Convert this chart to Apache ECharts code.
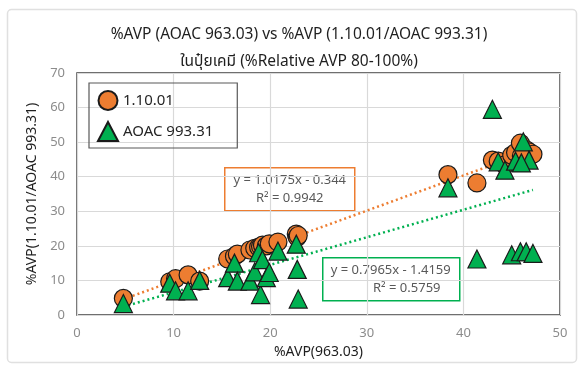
<!DOCTYPE html>
<html><head><meta charset="utf-8">
<script src="https://cdn.jsdelivr.net/npm/echarts@6/dist/echarts.min.js"></script>
<style>html,body{margin:0;padding:0;background:#fff}#c{width:580px;height:372px}</style>
</head><body><div id="c"></div>
<script>
const xValues = [4.8, 9.6, 10.2, 11.5, 12.7, 15.6, 16.3, 16.6, 17.9, 18.4, 18.8, 19.0, 19.2, 19.6, 19.9, 20.8, 22.7, 22.8, 22.9, 38.4, 41.4, 43.0, 43.6, 44.3, 45.0, 45.4, 45.9, 46.2, 46.5, 46.8, 47.2, 46.0];
const y11001 = [4.8, 9.6, 10.5, 11.6, 9.8, 16.2, 17.0, 17.6, 18.8, 19.3, 19.6, 19.8, 20.2, 20.0, 20.6, 21.1, 23.4, 22.5, 23.0, 40.6, 38.2, 44.8, 44.5, 43.4, 46.2, 47.0, 49.7, 45.8, 47.8, 47.2, 46.5, 46.0];
const yAOAC = [3.3, 9.2, 7.0, 7.0, 10.0, 10.8, 15.0, 9.8, 9.8, 12.5, 18.0, 5.9, 16.0, 10.8, 12.3, 18.5, 20.5, 13.2, 4.6, 36.8, 16.2, 59.5, 44.3, 41.9, 17.4, 44.5, 18.3, 50.1, 18.3, 44.8, 17.8, 44.0];
const seriesNames = ['1.10.01', 'AOAC 993.31'];
const xTicks = [0, 10, 20, 30, 40, 50];
const yTicks = [0, 10, 20, 30, 40, 50, 60, 70];
const fit11001 = {slope: 1.0175, intercept: -0.344, r2: '0.9942', text: 'y = 1.0175x - 0.344'};
const fitAOAC = {slope: 0.7965, intercept: -1.4159, r2: '0.5759', text: 'y = 0.7965x - 1.4159'};
const titleLines = ['%AVP (AOAC 963.03) vs %AVP (1.10.01/AOAC 993.31)', 'ในปุ๋ยเคมี (%Relative AVP 80-100%)'];
const xName = '%AVP(963.03)';
const yName = '%AVP(1.10.01/AOAC 993.31)';

const FONT = '"Noto Sans", "Noto Sans Thai", Tahoma, sans-serif';
const xMin = Math.min(...xValues), xMax = Math.max(...xValues);
function trend(f){ return [[xMin, f.slope*xMin+f.intercept],[xMax, f.slope*xMax+f.intercept]]; }
const pts1 = xValues.map((x,i)=>[x, y11001[i]]);
const pts2 = xValues.map((x,i)=>[x, yAOAC[i]]);

const chart = echarts.init(document.getElementById('c'), null, {renderer:'canvas'});
chart.setOption({
  animation: false,
  backgroundColor: '#fff',
  title: {
    text: titleLines.join('\n'), left: 294, top: 16, textAlign: 'center',
    textStyle: {fontFamily: FONT, fontSize: 15.5, fontWeight: 'normal', color: '#1f1f1f', lineHeight: 27}
  },
  legend: {
    orient: 'vertical', left: 89, top: 83, data: seriesNames,
    borderColor: '#595959', borderWidth: 1.2, padding: [7, 24, 6, 8], itemGap: 10,
    itemWidth: 20, itemHeight: 19,
    textStyle: {fontFamily: FONT, fontSize: 15, color: '#262626'}
  },
  grid: {left: 77, right: 20, top: 73, bottom: 57, show: true, borderColor: '#404040', borderWidth: 1.5},
  xAxis: {
    type: 'value', min: xTicks[0], max: xTicks[xTicks.length-1], interval: 10,
    name: xName, nameLocation: 'middle', nameGap: 22,
    nameTextStyle: {fontFamily: FONT, fontSize: 14, color: '#1f1f1f'},
    axisLine: {show: false}, axisTick: {show: false},
    axisLabel: {fontFamily: FONT, fontSize: 13, color: '#8c8c8c', margin: 12},
    splitLine: {lineStyle: {color: '#d9d9d9', width: 1.2}}
  },
  yAxis: {
    type: 'value', min: yTicks[0], max: yTicks[yTicks.length-1], interval: 10,
    name: yName, nameLocation: 'middle', nameGap: 38, nameRotate: 90,
    nameTextStyle: {fontFamily: FONT, fontSize: 14, color: '#1f1f1f'},
    axisLine: {show: false}, axisTick: {show: false},
    axisLabel: {fontFamily: FONT, fontSize: 13, color: '#8c8c8c', margin: 12},
    splitLine: {lineStyle: {color: '#d9d9d9', width: 1.2}}
  },
  series: [
    {type: 'line', data: trend(fit11001), symbol: 'none', silent: true, z: 1,
     lineStyle: {color: '#ED7D31', width: 2.5, type: [2, 3]}},
    {type: 'line', data: trend(fitAOAC), symbol: 'none', silent: true, z: 1,
     lineStyle: {color: '#00B050', width: 2.5, type: [2, 3]}},
    {name: seriesNames[0], type: 'scatter', data: pts1, symbol: 'circle', symbolSize: 18, z: 3,
     itemStyle: {color: '#ED7D31', borderColor: '#1a1a1a', borderWidth: 1.2, opacity: 1}},
    {name: seriesNames[1], type: 'scatter', data: pts2, symbol: 'triangle', symbolSize: 18, z: 4,
     itemStyle: {color: '#00B050', borderColor: '#1a1a1a', borderWidth: 1.2, opacity: 1}}
  ],
  graphic: [
    {type: 'rect', left: 5, top: 7, shape: {width: 569, height: 353, r: 4}, z: -10, silent: true,
     style: {fill: 'none', stroke: '#e0e0e0', lineWidth: 1.5}},
    {type: 'group', left: 224, top: 167, z: 10, children: [
      {type: 'rect', shape: {width: 130, height: 43}, style: {fill: '#fff', stroke: '#ED7D31', lineWidth: 1.5}},
      {type: 'text', x: 65, y: 13, style: {text: fit11001.text, fill: '#595959', font: '13px ' + FONT, align: 'center', verticalAlign: 'middle'}},
      {type: 'text', x: 65, y: 31, style: {text: 'R² = ' + fit11001.r2, fill: '#595959', font: '13px ' + FONT, align: 'center', verticalAlign: 'middle'}}
    ]},
    {type: 'group', left: 322, top: 257, z: 10, children: [
      {type: 'rect', shape: {width: 137, height: 43}, style: {fill: '#fff', stroke: '#00B050', lineWidth: 1.5}},
      {type: 'text', x: 68, y: 13, style: {text: fitAOAC.text, fill: '#595959', font: '13px ' + FONT, align: 'center', verticalAlign: 'middle'}},
      {type: 'text', x: 84, y: 31, style: {text: 'R² = ' + fitAOAC.r2, fill: '#595959', font: '13px ' + FONT, align: 'center', verticalAlign: 'middle'}}
    ]}
  ]
});
</script></body></html>
